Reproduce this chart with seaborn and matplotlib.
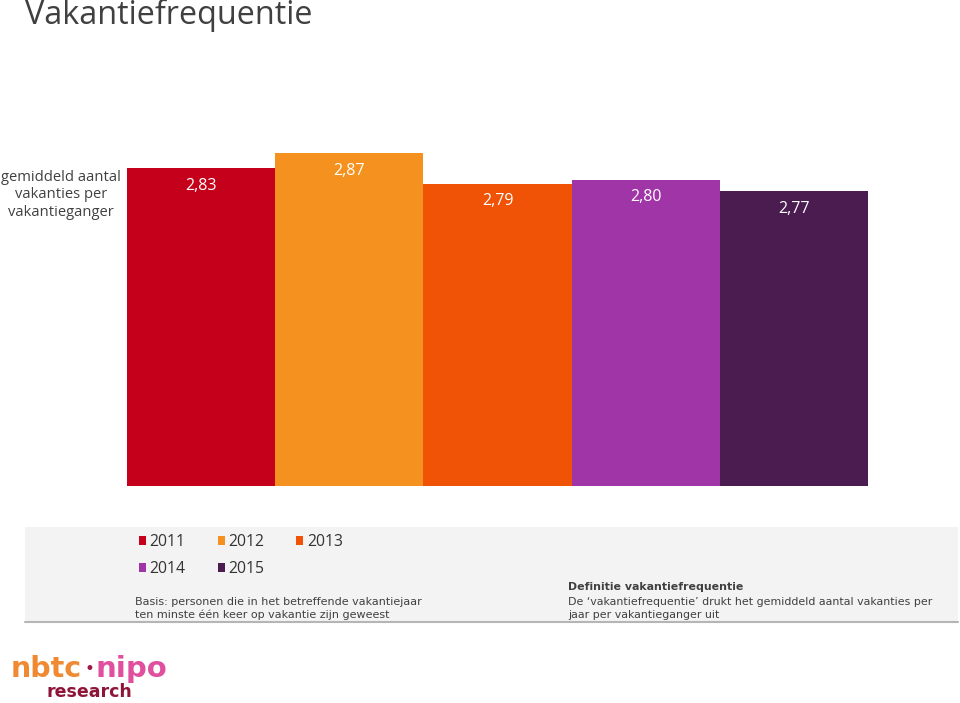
import matplotlib
matplotlib.use("Agg")
import matplotlib.pyplot as plt
from matplotlib.patches import Rectangle, Patch
from matplotlib.lines import Line2D
import seaborn as sns
import pandas as pd

# ---- data ----
jaren = ["2011", "2012", "2013", "2014", "2015"]
waarden = [2.83, 2.87, 2.79, 2.80, 2.77]
kleuren = ["#C4001A", "#F5921F", "#F05206", "#A035A8", "#4B1C50"]
titel = "Vakantiefrequentie"
ylabel = "gemiddeld aantal\nvakanties per\nvakantieganger"
basis = "Basis: personen die in het betreffende vakantiejaar\nten minste één keer op vakantie zijn geweest"
def_kop = "Definitie vakantiefrequentie"
def_tekst = "De \u2018vakantiefrequentie\u2019 drukt het gemiddeld aantal vakanties per\njaar per vakantieganger uit"

df = pd.DataFrame({"jaar": jaren, "waarde": waarden})

sns.set_theme(style="white")
plt.rcParams["font.family"] = ["DejaVu Sans"]

W, H = 960, 703
fig = plt.figure(figsize=(W / 100, H / 100), dpi=100)
fig.patch.set_facecolor("white")

def fx(px):
    return px / W

def fy(py):
    return 1 - py / H

# axes: x 127..868 px, y bottom 486 px, ylim 2.0..2.95
ymin, ymax = 2.0, 2.95
ppu = (486 - 153) / (2.87 - 2.0)
top_px = 486 - (ymax - ymin) * ppu
ax = fig.add_axes([fx(127), fy(486), fx(868) - fx(127), (486 - top_px) / H])
ax.patch.set_alpha(0)

sns.barplot(data=df, x="jaar", y="waarde", hue="jaar", palette=kleuren,
            width=1.0, legend=False, ax=ax, saturation=1.0, edgecolor="none")
ax.set_ylim(ymin, ymax)
ax.set_xlim(-0.5, len(jaren) - 0.5)
for s in ax.spines.values():
    s.set_visible(False)
ax.set_xticks([])
ax.set_yticks([])
ax.set_xlabel("")

for cont, v in zip(ax.containers, waarden):
    ax.bar_label(cont, labels=[f"{v:.2f}".replace(".", ",")], padding=-18.5,
                 color="white", fontsize=11.5, family="Open Sans")

ax.set_ylabel(ylabel, rotation=0, ha="center", va="center", fontsize=10.6,
              family="Open Sans", color="#404040", linespacing=1.2)
ax.yaxis.set_label_coords((61 - 127) / 741, (486 - 195) / (486 - top_px))

# title
fig.text(fx(25), fy(15), titel, ha="left", va="center", fontsize=23.3,
         family="Open Sans", color="#404040")

# grey panel
fig.patches.append(Rectangle((fx(25), fy(622)), fx(958) - fx(25), (622 - 527) / H,
                             transform=fig.transFigure, facecolor="#F3F3F3",
                             edgecolor="none", zorder=0))
fig.lines.append(Line2D([fx(25), fx(958)], [fy(622), fy(622)], transform=fig.transFigure,
                        color="#B5B5B5", lw=1.5, zorder=1))

# legend (row-major order via column-major handle ordering)
order = [0, 3, 1, 4, 2]
handles = [Patch(facecolor=kleuren[i], edgecolor="none") for i in order]
labels = [jaren[i] for i in order]
leg = fig.legend(handles, labels, ncol=3, loc="upper left",
                 bbox_to_anchor=(fx(139), fy(534)), frameon=False,
                 handlelength=0.45, handleheight=0.45,
                 handletextpad=0.22, columnspacing=2.05, labelspacing=0.72,
                 borderpad=0, borderaxespad=0, prop={"family": "Open Sans", "size": 11.3})
for t in leg.get_texts():
    t.set_color("#333333")

# notes
fig.text(fx(135), fy(608.5), basis, ha="left", va="center", fontsize=8.0,
         color="#404040", linespacing=1.22)
fig.text(fx(568), fy(587.5), def_kop, ha="left", va="center", fontsize=7.95,
         color="#404040", fontweight="bold")
fig.text(fx(568), fy(608.5), def_tekst, ha="left", va="center", fontsize=7.95,
         color="#404040", linespacing=1.4)

# logo
fig.text(fx(11), fy(677), "nbtc", ha="left", va="baseline", fontsize=20.5,
         fontweight="bold", color="#F08A32")
fig.text(fx(89), fy(669), "\u2022", ha="center", va="center", fontsize=12,
         color="#A0174A")
fig.text(fx(96), fy(677), "nipo", ha="left", va="baseline", fontsize=21,
         fontweight="bold", color="#E0509E")
fig.text(fx(46), fy(697), "research", ha="left", va="baseline", fontsize=12.5,
         fontweight="bold", color="#8E1538")

fig.savefig("out.png", dpi=100)
